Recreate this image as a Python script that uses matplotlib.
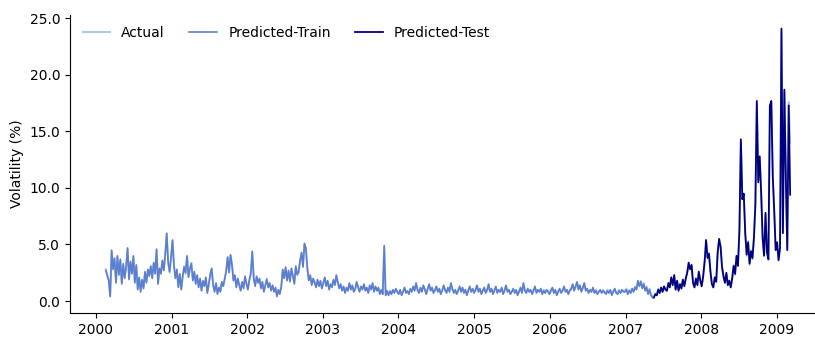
import matplotlib
matplotlib.use("Agg")
import matplotlib.pyplot as plt
import matplotlib.dates as mdates
import pandas as pd
import numpy as np

# ---- data (weekly volatility, %) ----
train_2000 = [2.7,2.3,1.8,0.4,4.5,2.8,3.8,1.6,4.0,2.3,3.7,1.5,3.3,2.0,3.0,4.7,1.9,3.5,2.4,4.0,1.6,3.2,1.0,2.1,0.8,1.9,1.1,2.6,1.6,2.8,2.2,3.1,2.0,3.4,2.4,4.6,1.5,2.9,2.4,3.6,2.7,4.2,6.0,3.4,2.6,3.9]
train_2001 = [5.4,3.1,2.0,2.8,1.2,2.4,1.0,2.2,3.0,2.5,4.0,2.1,2.9,3.3,1.8,2.6,1.5,2.3,1.2,2.0,0.9,1.8,1.3,2.1,0.7,1.5,2.3,2.9,1.4,0.8,1.6,0.6,1.2,0.8,1.7,1.3,2.0,2.6,3.9,2.5,4.1,3.2,1.8,2.3,1.2,2.0,1.4,0.9,1.7,1.1,2.2,1.5]
train_2002 = [1.0,1.9,2.4,4.4,2.0,1.3,2.2,1.6,2.0,1.1,1.7,0.8,1.4,1.9,1.2,1.6,0.9,1.4,0.8,1.2,0.4,1.0,0.6,1.3,2.8,2.0,3.0,1.8,2.7,1.7,2.9,2.2,1.5,3.1,2.3,2.6,3.6,4.3,3.0,5.1,4.6,2.9,1.8,2.3,1.4,2.0,1.6,1.2,1.9,1.3,1.8,1.1]
train_2003 = [1.6,2.1,1.3,1.8,1.0,1.5,1.2,1.9,1.4,2.3,1.6,1.1,1.5,0.9,1.3,0.7,1.2,0.9,1.6,1.0,1.4,0.8,1.1,1.7,1.2,0.8,1.3,1.0,1.5,0.9,1.2,0.7,1.4,1.0,1.6,0.8,1.3,0.9,1.2,0.6,1.0,0.6,4.9,0.5,0.9,0.5,0.9,0.6,1.0,0.7,1.1,0.8]
train_2004 = [0.6,1.0,0.5,0.8,1.2,0.7,0.9,0.6,1.1,0.8,1.3,0.9,1.6,1.0,0.7,1.2,0.8,1.4,1.0,0.6,1.1,1.5,0.9,1.2,0.7,1.0,1.3,0.8,1.1,0.6,0.9,1.4,1.0,0.7,1.2,0.8,1.6,1.1,0.7,1.0,0.6,0.9,1.3,0.8,1.2,0.7,1.0,0.5,0.9,1.3,0.8,1.1]
train_2005 = [0.7,1.0,1.4,0.8,1.1,0.6,0.9,1.2,0.7,1.0,1.5,0.8,1.1,0.6,0.9,1.3,0.7,1.0,0.8,1.2,0.6,0.9,1.4,0.8,1.0,0.6,0.8,1.1,0.7,1.0,0.5,0.8,1.2,0.7,1.6,0.9,0.7,1.1,0.8,1.0,0.6,0.9,1.3,0.7,1.0,0.8,1.1,0.6,0.9,0.7,1.0,0.8]
train_2006 = [0.6,0.9,1.2,0.7,1.0,0.5,0.8,1.1,0.7,0.9,1.3,0.8,1.0,0.6,0.9,1.1,1.5,0.9,1.3,1.7,1.0,1.4,0.8,1.2,1.6,0.9,1.1,0.7,1.0,0.8,1.2,0.7,0.9,0.6,0.8,1.0,0.7,0.9,0.8,0.6,0.9,0.7,1.0,0.5,0.8,1.1,0.7,0.6,0.9,0.7,1.0,0.8]
train_2007 = [0.8,1.0,0.6,0.9,0.7,1.1,0.8,1.2,1.0,1.8,1.3,1.7,1.1,1.5,0.9,1.2,0.6,1.0,0.5,0.3]

test_pred = [0.3,0.6,0.5,1.0,0.7,1.2,0.8,1.3,1.0,0.9,1.6,1.2,2.1,
             1.4,2.3,1.0,1.8,0.9,1.5,1.1,1.9,1.3,2.0,
             2.5,3.4,2.8,3.2,1.6,
             1.2,2.0,1.4,2.6,1.8,1.3,2.2,3.5,5.4,
             3.8,4.2,2.6,1.5,1.2,2.1,1.7,4.3,5.5,4.8,
             3.0,2.2,1.6,2.5,1.4,1.8,1.2,2.0,3.1,2.4,4.0,3.1,
             6.3,14.3,9.0,9.5,6.0,4.1,5.2,3.3,4.4,3.8,5.6,
             8.5,17.7,10.5,12.8,9.5,5.6,4.0,7.8,4.3,3.7,
             17.3,17.7,11.0,8.0,4.5,5.2,3.6,4.7,
             24.1,6.0,18.7,11.0,4.5,17.3,9.4]

actual_train = [2.8,2.2,1.9,0.5,4.4,2.9,3.7,1.7,3.9,2.4,3.6,1.6,3.2,2.1,3.1,4.6,2.0,3.4,2.5,3.9,1.7,3.1,1.1,2.0,0.9,1.8,1.2,2.5,1.7,2.7,2.3,3.0,2.1,3.3,2.5,4.5,1.6,2.8,2.5,3.5,2.8,4.1,5.9,3.5,2.5,3.8,
                5.3,3.2,2.1,2.7,1.3,2.3,1.1,2.1,3.1,2.4,3.9,2.2,2.8,3.4,1.9,2.5,1.6,2.2,1.3,1.9,1.0,1.7,1.4,2.0,0.8,1.4,2.4,2.8,1.5,0.9,1.5,0.7,1.1,0.9,1.6,1.4,1.9,2.7,3.8,2.6,4.0,3.3,1.9,2.2,1.3,1.9,1.5,1.0,1.6,1.2,2.1,1.6,
                1.1,1.8,2.5,4.3,2.1,1.4,2.1,1.7,1.9,1.2,1.6,0.9,1.3,2.0,1.3,1.5,1.0,1.3,0.9,1.1,0.5,0.9,0.7,1.2,2.7,2.1,2.9,1.9,2.6,1.8,2.8,2.3,1.6,3.0,2.4,2.5,3.5,4.2,3.1,5.0,4.7,2.8,1.9,2.2,1.5,1.9,1.7,1.3,1.8,1.4,1.7,1.2,
                1.5,2.0,1.4,1.7,1.1,1.4,1.3,1.8,1.5,2.2,1.7,1.2,1.4,1.0,1.2,0.8,1.1,1.0,1.5,1.1,1.3,0.9,1.0,1.6,1.3,0.9,1.2,1.1,1.4,1.0,1.1,0.8,1.3,1.1,1.5,0.9,1.2,1.0,1.1,0.7,0.9,0.7,4.8,0.6,0.8,0.6,0.8,0.7,0.9,0.8,1.0,0.9,
                0.7,0.9,0.6,0.9,1.1,0.8,0.8,0.7,1.0,0.9,1.2,1.0,1.5,0.9,0.8,1.1,0.9,1.3,1.1,0.7,1.0,1.4,1.0,1.1,0.8,0.9,1.2,0.9,1.0,0.7,1.0,1.3,0.9,0.8,1.1,0.9,1.5,1.0,0.8,0.9,0.7,1.0,1.2,0.9,1.1,0.8,0.9,0.6,1.0,1.2,0.9,1.0,
                0.8,0.9,1.3,0.9,1.0,0.7,1.0,1.1,0.8,0.9,1.4,0.9,1.0,0.7,1.0,1.2,0.8,0.9,0.9,1.1,0.7,1.0,1.3,0.9,0.9,0.7,0.9,1.0,0.8,0.9,0.6,0.9,1.1,0.8,1.5,1.0,0.8,1.0,0.9,0.9,0.7,1.0,1.2,0.8,0.9,0.9,1.0,0.7,1.0,0.8,0.9,0.9,
                0.7,1.0,1.1,0.8,0.9,0.6,0.9,1.0,0.8,1.0,1.2,0.9,0.9,0.7,1.0,1.0,1.4,1.0,1.2,1.6,1.1,1.3,0.9,1.1,1.5,1.0,1.0,0.8,0.9,0.9,1.1,0.8,1.0,0.7,0.9,0.9,0.8,1.0,0.7,0.7,1.0,0.8,0.9,0.6,0.9,1.0,0.8,0.7,1.0,0.8,0.9,0.9,
                0.9,1.1,0.7,1.0,0.8,1.0,0.9,1.3,1.1,1.7,1.4,1.8,1.2,1.6,1.0,1.3,0.7,1.1,0.6,0.4]
actual_test = [0.4,0.7,0.5,1.1,0.8,1.1,0.9,1.2,1.1,1.0,1.5,1.3,2.0,
               1.5,2.2,1.1,1.7,1.0,1.4,1.2,1.8,1.4,1.9,
               2.6,3.3,2.9,3.1,1.7,
               1.3,1.9,1.5,2.5,1.9,1.4,2.1,3.4,5.3,
               3.9,4.1,2.7,1.6,1.3,2.0,1.8,4.2,5.4,4.9,
               3.1,2.1,1.7,2.4,1.5,1.7,1.3,1.9,3.2,2.3,3.9,3.2,
               6.2,14.1,9.2,9.3,6.1,4.0,5.3,3.2,4.5,3.7,5.5,
               8.7,17.5,10.7,12.6,9.7,5.5,4.1,7.6,4.4,3.6,
               17.1,17.5,11.2,7.8,4.6,5.0,3.7,4.6,
               23.8,6.3,18.5,11.4,4.7,17.6,14.0]

start_date = "2000-02-18"

train_pred = (train_2000 + train_2001 + train_2002 + train_2003 +
              train_2004 + train_2005 + train_2006 + train_2007)
actual = actual_train + actual_test

dates_all = pd.date_range(start=start_date, periods=len(train_pred) + len(test_pred), freq="7D")
dates_train = dates_all[:len(train_pred)]
dates_test = dates_all[len(train_pred):]
dates_actual = dates_all[:len(actual)]

fig = plt.figure(figsize=(8.15, 3.38), dpi=100)
ax = fig.add_axes([70/815, 1-313/338, 756/815, (313-15)/338])

ax.plot(dates_actual, actual, color="#aec7e8", lw=1.4, label="Actual")
ax.plot(dates_train, train_pred, color="#5b7fce", lw=1.2, label="Predicted-Train")
ax.plot(dates_test, test_pred, color="#00007f", lw=1.3, label="Predicted-Test")

ax.set_ylim(-1.06, 25.3)
ax.set_xlim(pd.Timestamp("1999-08-29"), pd.Timestamp("2009-08-26"))
ax.set_yticks([0, 5, 10, 15, 20, 25])
ax.yaxis.set_major_formatter(matplotlib.ticker.FormatStrFormatter("%.1f"))
ax.xaxis.set_major_locator(mdates.YearLocator())
ax.xaxis.set_major_formatter(mdates.DateFormatter("%Y"))
ax.set_ylabel("Volatility (%)", fontsize=10)
ax.tick_params(labelsize=10)
ax.spines["top"].set_visible(False)
ax.spines["right"].set_visible(False)

ax.legend(loc="upper left", ncol=3, frameon=False, fontsize=10,
          bbox_to_anchor=(0.0, 1.005), columnspacing=1.75, handlelength=2.0)

fig.savefig("out.png", dpi=100)
